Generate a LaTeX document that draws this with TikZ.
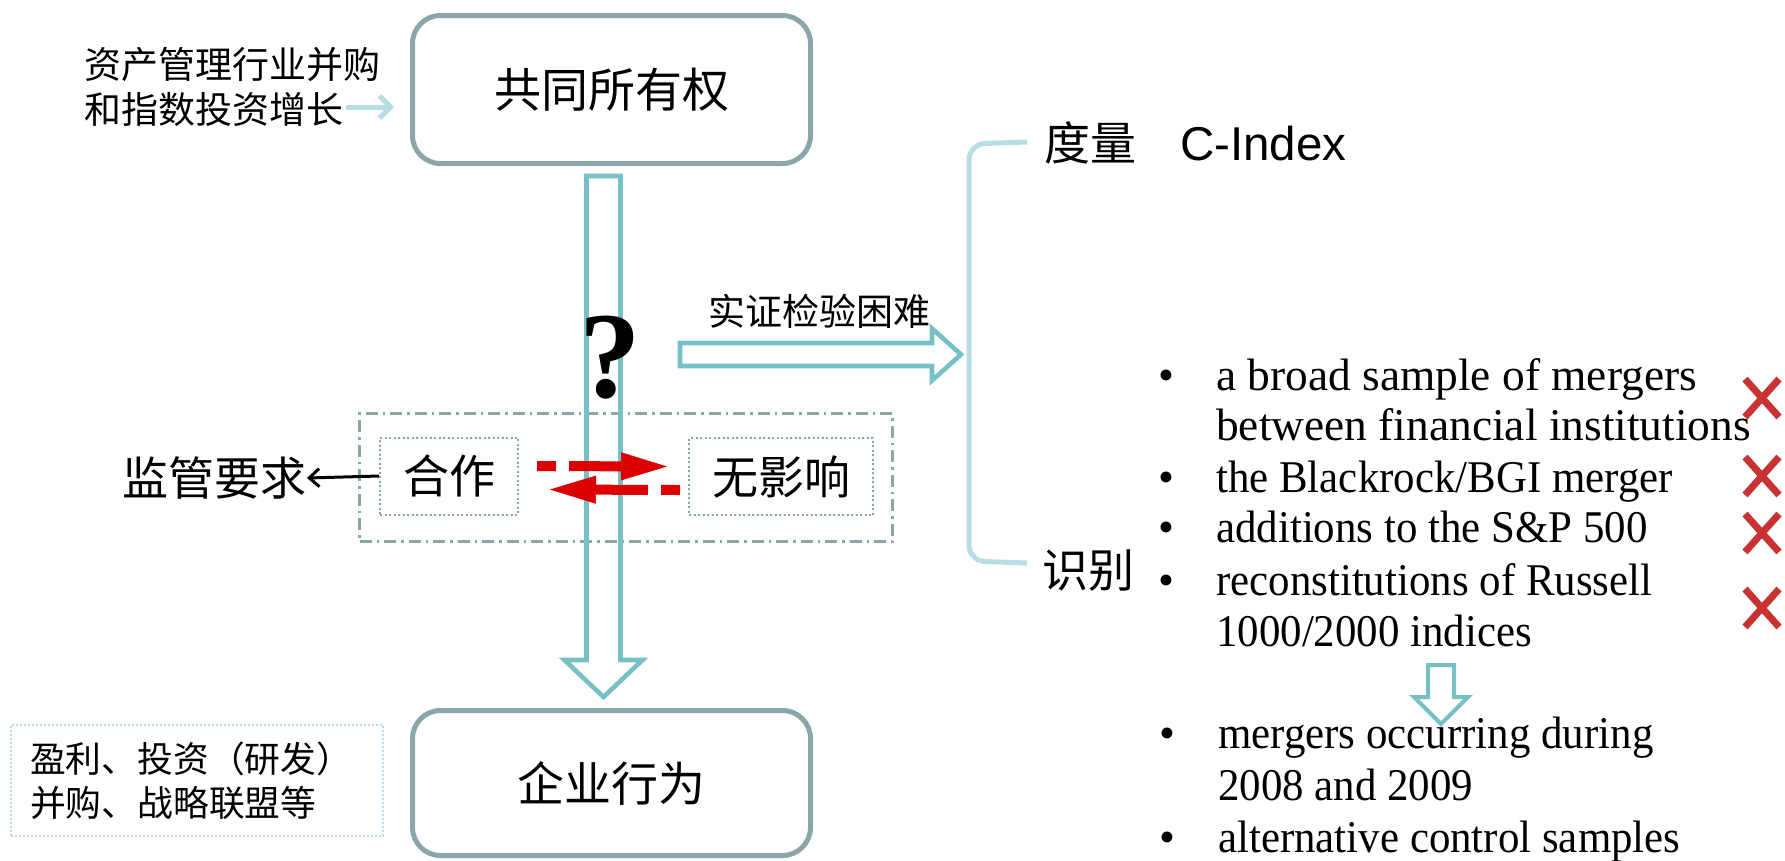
\documentclass[tikz,border=0pt]{standalone}
\usepackage{fontspec}
\setmainfont{Liberation Serif}
\newfontfamily\cjk{Noto Sans CJK SC}
\newfontfamily\arialf{Liberation Sans}
\usetikzlibrary{arrows.meta,calc}
\definecolor{boxc}{RGB}{139,166,168}
\definecolor{tealc}{RGB}{118,192,198}
\definecolor{lightc}{RGB}{183,222,226}
\definecolor{redc}{RGB}{221,0,0}
\definecolor{xc}{RGB}{200,50,50}
\newcommand\narrow[1]{\scalebox{0.945}[1]{#1}}
\begin{document}
\begin{tikzpicture}[x=1pt,y=-1pt,
  mainbox/.style={draw=boxc, line width=5pt, rounded corners=28pt, minimum width=398pt, minimum height=148pt, inner sep=0pt, font=\cjk\fontsize{47}{56}\selectfont},
  hollow/.style={draw=tealc, line width=4.6pt, line join=miter},
  grp/.style={draw=boxc, line width=2.5pt, dash pattern=on 12pt off 5pt on 2.5pt off 5pt, minimum width=533pt, minimum height=128pt, inner sep=0pt},
  smallbox/.style={draw=boxc, line width=2pt, dash pattern=on 2pt off 2.5pt, minimum height=77pt, inner sep=0pt, font=\cjk\fontsize{46}{55}\selectfont},
  cjktext/.style={inner sep=0pt, font=\cjk\fontsize{46}{55}\selectfont},
  redarrow/.style={draw=redc, line width=10pt, dash pattern=on 19pt off 13pt on 400pt, -{Triangle[length=46pt,width=28pt,line width=0.5pt]}},
  blackarrow/.style={draw=black, line width=3pt, -{Straight Barb[length=10pt,width=18pt]}},
  lightarrow/.style={draw=lightc, line width=5pt, -{Straight Barb[length=11pt,width=22pt]}},
  bracket/.style={draw=lightc, line width=5pt, rounded corners=16pt},
  itm/.style={inner sep=0pt, anchor=base west, font=\fontsize{45.4}{52}\selectfont},
  bul/.style={inner sep=0pt, anchor=base, font=\fontsize{45.4}{52}\selectfont},
  xmark/.style={draw=xc, line width=7pt}
]
\useasboundingbox (0,0) rectangle (1785,860);

% main boxes
\node[mainbox] (own) at (611.5,89.5) {共同所有权};
\node[mainbox, minimum height=145pt] (bot) at (611.5,783) {企业行为};

% source text and arrow
\node[inner sep=0pt, anchor=west, align=left, font=\cjk\fontsize{37}{45}\selectfont] (src) at (84,86.5) {资产管理行业并购\\和指数投资增长};
\coordinate (la) at (346,107);
\draw[lightarrow] (la) -- ($(own.west)+(-16,17.5)$);

% group box
\node[grp] (grp) at (626,477.5) {};

% vertical hollow arrow
\coordinate (vs) at ($(own.south)+(-8,10)$);
\coordinate (ve) at ($(bot.north)+(-8,-11)$);
\draw[hollow] ($(vs)+(-17,0)$) -- ($(ve)+(-17,-37)$) -- ($(ve)+(-39,-37)$) -- (ve) -- ($(ve)+(39,-37)$) -- ($(ve)+(17,-37)$) -- ($(vs)+(17,0)$) -- cycle;

% inner boxes
\node[smallbox, minimum width=138pt] (hz) at (449,476) {合作};
\node[smallbox, minimum width=184pt] (wy) at (781,476.5) {无影响};
\node[cjktext, anchor=east] (jg) at (307,478) {监管要求};
\draw[blackarrow] (hz.west) -- (jg.east);

% red arrows
\draw[redarrow] ($(hz.east)+(18,-10)$) -- ($(wy.west)+(-21,-10)$);
\draw[redarrow] ($(wy.west)+(-8,13.5)$) -- ($(hz.east)+(31,13.5)$);

% question mark
\node[inner sep=0pt, font=\bfseries\fontsize{123}{123}\selectfont] (q) at (610,358) {?};

% horizontal hollow arrow
\node[inner sep=0pt, font=\cjk\fontsize{37}{44}\selectfont] (sz) at (819,311) {实证检验困难};
\coordinate (hs) at (680,354.5);
\coordinate (he) at (961,354.5);
\draw[hollow] ($(hs)+(0,-11.5)$) -- ($(he)+(-29,-11.5)$) -- ($(he)+(-29,-26)$) -- (he) -- ($(he)+(-29,26)$) -- ($(he)+(-29,11.5)$) -- ($(hs)+(0,11.5)$) -- cycle;

% bracket
\draw[bracket] (1027,142) -- (969,144) -- (969,561) -- (1027,563);
\node[cjktext] (dl) at (1090,143) {度量};
\node[inner sep=0pt, anchor=base west, font=\arialf\fontsize{47.5}{57}\selectfont] (ci) at (1180,160) {C-Index};
\node[cjktext] (sb) at (1088,571) {识别};

% bullet list
\node[bul] (b1) at (1166,390) {•};
\node[itm] (l1) at (1216,390) {a broad sample of mergers};
\node[itm] (l2) at (1216,440) {between financial institutions};
\node[bul] (b3) at (1166,492) {•};
\node[itm] (l3) at (1216,492) {\narrow{the Blackrock/BGI merger}};
\node[bul] (b4) at (1166,542) {•};
\node[itm] (l4) at (1216,542) {\narrow{additions to the S\&P 500}};
\node[bul] (b5) at (1166,595) {•};
\node[itm] (l5) at (1216,595) {\narrow{reconstitutions of Russell}};
\node[itm] (l6) at (1216,646) {\narrow{1000/2000 indices}};
\node[bul] (b7) at (1167,748) {•};
\node[itm] (l7) at (1218,748) {\narrow{mergers occurring during}};
\node[itm] (l8) at (1218,800) {\narrow{2008 and 2009}};
\node[bul] (b9) at (1167,852) {•};
\node[itm] (l9) at (1218,852) {\narrow{alternative control samples}};

% small down arrow
\coordinate (da) at (1441,665);
\coordinate (db) at (1441,724);
\draw[hollow, line width=4pt] ($(da)+(-13,0)$) -- ($(db)+(-13,-27)$) -- ($(db)+(-27,-27)$) -- (db) -- ($(db)+(27,-27)$) -- ($(db)+(13,-27)$) -- ($(da)+(13,0)$) -- cycle;

% red crosses
\foreach \yy in {398,476,533,608} {
  \draw[xmark] (1745,\yy-19) -- (1779,\yy+19) (1779,\yy-19) -- (1745,\yy+19);
}

% examples box
\node[draw=lightc, line width=2pt, dash pattern=on 2pt off 2pt, align=left, text width=334pt, inner xsep=19pt, inner ysep=0pt, minimum height=111pt, font=\cjk\fontsize{35.8}{44}\selectfont] (eg) at (197,780.5) {盈利、投资（研发）\\并购、战略联盟等};
\end{tikzpicture}
\end{document}
